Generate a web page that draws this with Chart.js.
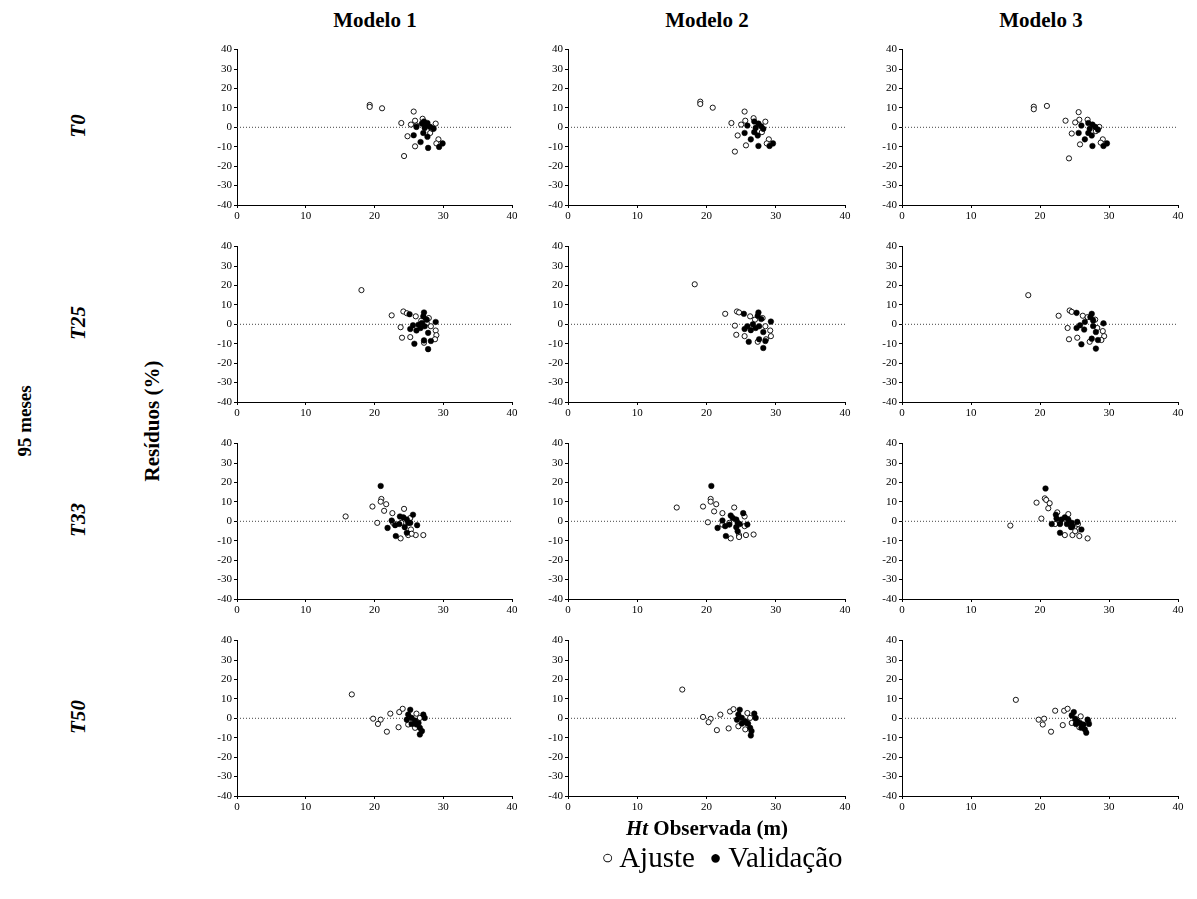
<!DOCTYPE html>
<html>
<head>
<meta charset="utf-8">
<script src="https://cdn.jsdelivr.net/npm/chart.js@4/dist/chart.umd.min.js"></script>
<style>
  body { margin: 0; background: #fff; width: 1197px; height: 899px; position: relative; overflow: hidden; font-family: "Liberation Serif", "Times New Roman", serif; }
  .lbl { position: absolute; white-space: nowrap; color: #000; }
  .b { font-weight: bold; }
  .rot { transform: translate(-50%, -50%) rotate(-90deg); }
  .ctr { transform: translate(-50%, -50%); }
  canvas { position: absolute; }
</style>
</head>
<body>

<script>
// categories
var modelos = ['Modelo 1', 'Modelo 2', 'Modelo 3'];
var tratamentos = ['T0', 'T25', 'T33', 'T50'];
var xTicks = [0, 10, 20, 30, 40];
var yTicks = [-40, -30, -20, -10, 0, 10, 20, 30, 40];

// residuos (Ht observada, residuo %) - Ajuste (open) / Validacao (filled)
var m1t0Aj = [[19.3,11.5],[19.3,10.5],[21.1,9.8],[25.7,8.1],[23.9,2.2],[25.9,3.4],[25.3,1.4],[28.9,1.9],[24.8,-4.6],[28.1,-2.9],[29.3,-6.2],[29.0,-8.3],[25.9,-9.8],[24.3,-14.8],[27.0,4.4],[26.1,0.9],[28.4,-0.8]];
var m1t0Va = [[26.1,0.2],[27.2,3.0],[27.7,2.2],[27.3,-0.3],[28.6,-0.7],[27.1,-2.9],[25.7,-4.1],[27.7,-4.9],[26.7,-7.6],[27.8,-10.6],[29.4,-10.1],[29.9,-8.3],[27.6,0.9],[28.1,0.2],[26.9,1.9]];
var m2t0Aj = [[19.1,13.2],[19.1,12.0],[20.9,10.1],[25.5,8.1],[23.6,2.2],[25.6,3.4],[25.0,1.4],[26.8,4.7],[28.5,2.9],[24.5,-4.2],[29.0,-6.2],[28.7,-8.3],[25.7,-9.3],[24.1,-12.5],[28.0,-2.5]];
var m2t0Va = [[25.9,0.9],[26.9,3.0],[27.5,1.9],[27.1,-0.3],[28.2,-0.8],[26.9,-2.5],[25.5,-2.9],[27.4,-4.2],[26.4,-6.2],[27.5,-9.6],[29.1,-9.6],[29.6,-8.3],[27.9,0.5]];
var m3t0Aj = [[19.1,10.6],[19.1,9.3],[21.0,11.0],[25.6,7.8],[23.7,3.4],[25.7,3.9],[25.1,2.5],[26.9,3.9],[28.6,0.2],[24.6,-3.2],[29.1,-6.2],[28.8,-7.9],[25.8,-8.8],[24.2,-16.0],[28.1,-2.0]];
var m3t0Va = [[26.0,0.9],[27.0,2.2],[27.6,1.4],[27.2,-0.8],[28.4,-1.2],[27.0,-2.9],[25.6,-2.9],[27.5,-4.2],[26.5,-6.2],[27.6,-9.6],[29.2,-9.6],[29.7,-8.3],[28.0,0.2]];

var m1t25Aj = [[18.1,17.6],[22.5,4.6],[24.2,6.6],[24.7,5.7],[26.0,4.1],[27.9,3.2],[23.8,-1.5],[28.2,-1.0],[28.9,-3.2],[29.0,-5.6],[28.8,-7.7],[24.0,-6.9],[25.2,-6.6],[27.2,-9.5],[26.8,1.9],[27.6,0.7]];
var m1t25Va = [[25.1,5.2],[27.2,6.1],[27.1,4.1],[27.6,2.4],[28.9,1.2],[26.4,-0.2],[25.6,-0.5],[25.2,-2.4],[26.1,-3.2],[27.3,-1.0],[27.8,-4.4],[28.2,-8.6],[27.2,-8.3],[25.8,-10.0],[27.8,-12.8],[26.9,0.7],[26.7,-1.9]];
var m2t25Aj = [[18.3,20.6],[22.7,5.4],[24.4,6.6],[24.7,6.1],[26.3,4.1],[28.1,3.2],[24.1,-0.7],[28.5,-1.0],[29.2,-3.2],[29.3,-6.1],[28.6,-7.7],[24.3,-5.4],[25.5,-6.1],[27.4,-9.0],[27.0,2.4]];
var m2t25Va = [[25.4,5.4],[27.5,6.1],[27.4,4.4],[27.9,2.7],[29.3,1.4],[26.7,0.0],[25.9,-1.0],[25.5,-2.4],[26.4,-3.0],[27.6,-1.0],[28.2,-4.0],[28.5,-8.6],[27.6,-7.7],[26.1,-9.0],[28.2,-12.2],[27.1,-1.9]];
var m3t25Aj = [[18.3,15.0],[22.7,4.4],[24.3,7.1],[24.6,6.4],[26.2,4.4],[28.0,2.4],[24.0,-1.9],[28.3,-1.9],[29.1,-3.5],[29.3,-6.1],[28.9,-8.1],[24.2,-7.7],[25.4,-6.9],[27.2,-9.0],[26.9,3.7]];
var m3t25Va = [[25.3,5.9],[27.5,5.4],[27.3,3.7],[27.7,2.0],[29.2,0.5],[26.5,1.2],[25.8,-0.5],[25.3,-1.9],[26.4,-2.7],[27.7,-0.9],[28.1,-4.0],[28.4,-8.1],[27.5,-7.4],[26.0,-10.3],[28.1,-12.5]];

var m1t33Aj = [[15.8,2.5],[19.7,7.6],[20.4,-0.8],[21.0,11.5],[20.9,10.1],[21.7,8.8],[21.4,5.4],[22.6,4.2],[24.3,6.4],[22.7,-0.8],[23.9,-0.8],[25.2,1.7],[25.3,-4.2],[24.9,-7.1],[26.0,-7.1],[27.1,-7.1],[23.8,-8.8],[25.4,-6.4]];
var m1t33Va = [[20.9,18.2],[22.5,0.4],[23.7,2.5],[24.2,2.0],[24.7,0.9],[25.6,3.4],[24.9,-0.8],[23.6,-1.4],[23.0,-2.0],[21.9,-3.4],[24.4,-3.0],[26.2,-2.0],[23.1,-7.6],[24.7,-5.9],[25.2,-0.8]];
var m2t33Aj = [[15.7,7.1],[19.5,7.6],[20.2,-0.5],[20.6,11.5],[20.6,10.1],[21.4,8.8],[21.1,5.1],[22.3,4.2],[24.0,7.1],[22.3,-1.7],[23.3,-0.8],[25.5,2.5],[25.5,-2.5],[24.7,-7.1],[25.7,-7.1],[26.8,-6.8],[23.5,-8.8],[24.7,-8.1]];
var m2t33Va = [[20.7,18.2],[22.3,0.4],[23.5,3.0],[23.8,1.7],[24.3,0.9],[25.3,4.2],[24.5,-0.8],[23.3,-1.7],[22.7,-2.5],[21.6,-3.4],[24.3,-3.0],[25.9,-1.7],[22.8,-7.6],[24.5,-5.1],[24.8,-1.4]];
var m3t33Aj = [[15.7,-2.2],[19.5,9.6],[20.2,1.4],[20.7,11.8],[20.9,11.0],[21.4,9.3],[21.2,6.7],[22.5,4.6],[24.1,3.7],[22.2,-1.4],[22.9,-0.8],[25.5,-1.4],[25.6,-4.2],[24.7,-7.1],[25.7,-7.6],[26.9,-8.8],[23.6,-7.1],[25.1,-5.1]];
var m3t33Va = [[20.8,16.9],[22.3,3.4],[22.4,1.4],[23.1,0.9],[23.6,2.0],[24.1,0.9],[24.6,-0.8],[23.9,-1.4],[22.9,-1.4],[21.7,-1.4],[25.4,-0.3],[24.7,-2.5],[26.0,-4.2],[22.9,-5.9],[24.5,-3.0]];

var m1t50Aj = [[16.7,12.3],[19.8,-0.2],[20.9,-0.7],[20.5,-2.9],[21.8,-6.9],[22.3,2.4],[23.5,-4.6],[23.6,3.2],[24.1,4.9],[26.1,2.4],[24.9,-3.2],[25.9,-4.9],[26.6,0.2]];
var m1t50Va = [[25.2,4.4],[24.9,1.9],[24.7,-0.7],[25.4,0.2],[25.9,-1.2],[26.4,-2.4],[25.4,-2.9],[27.1,1.9],[27.3,0.2],[26.6,-4.9],[26.9,-6.6],[26.6,-8.3],[26.1,-3.2]];
var m2t50Aj = [[16.5,14.8],[19.5,0.7],[20.6,-0.3],[20.3,-2.0],[21.5,-6.1],[22.0,1.9],[23.2,-5.2],[23.4,3.5],[23.9,4.7],[25.9,2.7],[24.6,-4.1],[25.6,-5.7],[26.3,0.2]];
var m2t50Va = [[24.8,4.4],[24.6,1.9],[24.4,-0.7],[25.1,0.2],[25.6,-1.5],[26.0,-2.7],[25.1,-2.7],[26.9,2.4],[27.1,0.2],[26.3,-4.9],[26.5,-6.6],[26.4,-8.8],[25.8,-2.4]];
var m3t50Aj = [[16.5,9.5],[19.8,-0.7],[20.6,-0.2],[20.4,-3.2],[21.6,-6.9],[22.2,3.9],[23.3,-3.5],[23.5,3.9],[24.0,4.9],[25.9,1.0],[24.6,-2.4],[25.7,-4.6],[27.0,-1.5]];
var m3t50Va = [[24.9,3.2],[24.6,1.5],[25.1,-0.2],[25.4,-1.5],[25.8,-2.4],[26.3,-3.2],[26.0,-4.9],[26.9,-0.7],[27.1,-2.9],[26.5,-5.7],[26.7,-7.4],[25.2,-2.9]];

var ajuste = [[m1t0Aj, m2t0Aj, m3t0Aj], [m1t25Aj, m2t25Aj, m3t25Aj], [m1t33Aj, m2t33Aj, m3t33Aj], [m1t50Aj, m2t50Aj, m3t50Aj]];
var validacao = [[m1t0Va, m2t0Va, m3t0Va], [m1t25Va, m2t25Va, m3t25Va], [m1t33Va, m2t33Va, m3t33Va], [m1t50Va, m2t50Va, m3t50Va]];

// layout of panels
var colLeft = [237, 568, 902];
var colW = [275, 277, 276];
var rowTop = [47, 244, 441, 638];
var plotH = 158;
var padL = 30, padT = 6, padR = 8, padB = 20;

function pts(arr) {
  return arr.map(function (p) { return { x: p[0], y: p[1] }; });
}

function addLabel(text, x, y, cls, size) {
  var d = document.createElement('div');
  d.className = 'lbl ' + cls;
  d.style.left = x + 'px';
  d.style.top = y + 'px';
  d.style.fontSize = size + 'px';
  d.innerHTML = text;
  document.body.appendChild(d);
}

for (var r = 0; r < tratamentos.length; r++) {
  for (var c = 0; c < modelos.length; c++) {
    var cv = document.createElement('canvas');
    var w = padL + colW[c] + padR, h = padT + plotH + padB;
    cv.width = w; cv.height = h;
    cv.style.left = (colLeft[c] - padL) + 'px';
    cv.style.top = (rowTop[r] - padT) + 'px';
    cv.style.width = w + 'px'; cv.style.height = h + 'px';
    document.body.appendChild(cv);

    new Chart(cv, {
      type: 'scatter',
      data: {
        datasets: [
          {
            type: 'line',
            data: [{ x: xTicks[0], y: 0 }, { x: xTicks[xTicks.length - 1], y: 0 }],
            borderColor: '#444',
            borderWidth: 1,
            borderDash: [1, 2],
            pointRadius: 0,
            order: 3
          },
          {
            label: 'Ajuste',
            data: pts(ajuste[r][c]),
            pointRadius: 2.6,
            borderWidth: 0.9,
            borderColor: '#000',
            backgroundColor: '#fff',
            order: 2
          },
          {
            label: 'Validação',
            data: pts(validacao[r][c]),
            pointRadius: 2.8,
            borderWidth: 0.5,
            borderColor: '#000',
            backgroundColor: '#000',
            order: 1
          }
        ]
      },
      options: {
        responsive: false,
        animation: false,
        events: [],
        layout: { padding: { left: 0, top: padT, right: padR, bottom: 0 } },
        plugins: { legend: { display: false }, tooltip: { enabled: false } },
        scales: {
          x: {
            type: 'linear',
            min: xTicks[0], max: xTicks[xTicks.length - 1],
            afterFit: function (s) { s.height = padB; },
            afterBuildTicks: function (s) { s.ticks = xTicks.map(function (v) { return { value: v }; }); },
            border: { display: true, color: '#000', width: 1 },
            grid: { drawOnChartArea: false, drawTicks: true, tickLength: 3, color: '#000' },
            ticks: { color: '#000', padding: 2, maxRotation: 0, font: { family: 'Liberation Serif', size: 11 } }
          },
          y: {
            type: 'linear',
            min: yTicks[0], max: yTicks[yTicks.length - 1],
            afterFit: function (s) { s.width = padL; },
            afterBuildTicks: function (s) { s.ticks = yTicks.map(function (v) { return { value: v }; }); },
            border: { display: true, color: '#000', width: 1 },
            grid: { drawOnChartArea: false, drawTicks: true, tickLength: 3, color: '#000' },
            ticks: { color: '#000', padding: 2, font: { family: 'Liberation Serif', size: 11 } }
          }
        }
      }
    });
  }
}

// titles and axis labels
var colCenter = [375, 707, 1041];
for (var i = 0; i < modelos.length; i++) addLabel(modelos[i], colCenter[i], 20, 'b ctr', 21);
var rowCenter = [126, 323, 520, 717];
for (var j = 0; j < tratamentos.length; j++) addLabel('<i>' + tratamentos[j] + '</i>', 78, rowCenter[j], 'b rot', 21);
addLabel('95 meses', 25, 421, 'b rot', 19);
addLabel('Resíduos (%)', 152, 421, 'b rot', 21);
addLabel('<i>Ht</i> Observada (m)', 707, 828, 'b ctr', 21);
addLabel('<span style="font-size:20px;vertical-align:3px">○</span> Ajuste &nbsp;<span style="font-size:20px;vertical-align:3px">●</span> Validação', 722, 857, 'ctr', 29);
</script>
</body>
</html>
